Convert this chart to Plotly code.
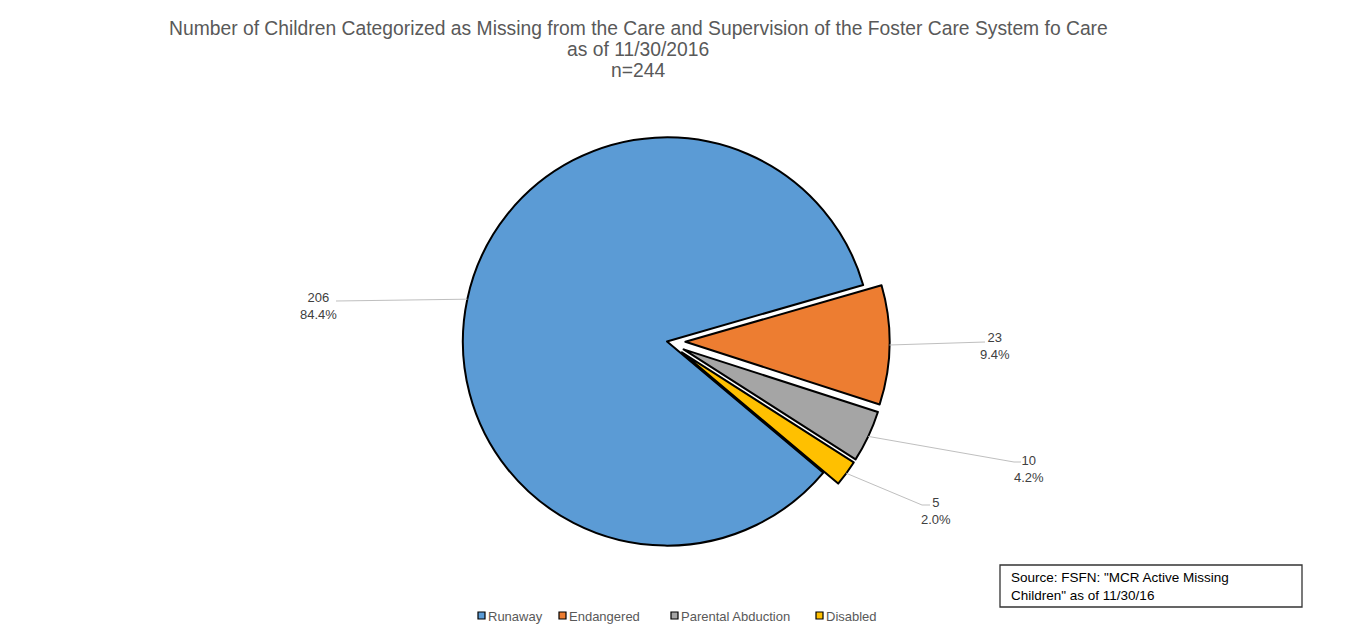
import plotly.graph_objects as go
import math

# ---- data ----
categories = ["Runaway", "Endangered", "Parental Abduction", "Disabled"]
counts = [206, 23, 10, 5]
pct_labels = ["84.4%", "9.4%", "4.2%", "2.0%"]
colors = ["#5B9BD5", "#ED7D31", "#A5A5A5", "#FFC000"]
pulls = [0, 0.09, 0.09, 0.09]

title_lines = [
    "Number of Children Categorized as Missing from the Care and Supervision of the Foster Care System fo Care",
    "as of 11/30/2016",
    "n=244",
]
source_text = 'Source: FSFN: "MCR Active Missing<br>Children" as of 11/30/16'

FONT = "Liberation Sans, Arial"

# ---- layout geometry (page pixels; page body has 8px offset) ----
OFF = 8
W, H = 1348, 634
ML, MR, MT, MB = 0, 0, 111, 78
PW, PH = W - ML - MR, H - MT - MB
ROT = 130
CX = 667  # page x of pie center
dom_half = 0.2
dom_c = (CX - OFF - ML) / PW
domain_x = [dom_c - dom_half, dom_c + dom_half]


def px(x):
    return (x - OFF - ML) / PW


def py(y):
    return 1 - (y - OFF - MT) / PH


# pie geometry as plotly computes it
max_pull = max(pulls)
R = min(PW * (domain_x[1] - domain_x[0]), PH) / (2 + 2 * max_pull)
CY = OFF + MT + PH / 2

fig = go.Figure(go.Pie(
    labels=categories,
    values=counts,
    sort=False,
    direction="clockwise",
    rotation=ROT,
    pull=pulls,
    marker=dict(colors=colors, line=dict(color="#000000", width=2)),
    textinfo="none",
    hoverinfo="label+value",
    domain=dict(x=domain_x, y=[0, 1]),
    showlegend=False,
))

# ---- leader lines & labels ----
elbows = [[(336, 301)], [(985, 342)], [(1014, 462), (1021, 462)], [(922, 505), (930, 505)]]
label_pos = [(318, 306), (995, 346), (1029, 469), (936, 511)]

total = sum(counts)
cum = 0
shapes = []
annotations = []
for i, v in enumerate(counts):
    mid = math.radians(ROT + (cum + v / 2) * 360 / total)
    cum += v
    rr = R * (1 + pulls[i])
    sx = CX + rr * math.sin(mid)
    sy = CY - rr * math.cos(mid)
    pts = [(sx, sy)] + elbows[i]
    path = "M " + " L ".join(f"{px(x)},{py(y)}" for x, y in pts)
    shapes.append(dict(type="path", path=path, xref="paper", yref="paper",
                       line=dict(color="#BFBFBF", width=1)))
    lx, ly = label_pos[i]
    annotations.append(dict(
        x=px(lx), y=py(ly), xref="paper", yref="paper",
        text=f"{counts[i]}<br>{pct_labels[i]}", showarrow=False,
        xanchor="center", yanchor="middle", align="center",
        font=dict(family=FONT, size=13, color="#404040"),
    ))

# title lines
for t, y in zip(title_lines, [29, 50, 71]):
    annotations.append(dict(
        x=px(638), y=py(y), xref="paper", yref="paper", text=t, showarrow=False,
        xanchor="center", yanchor="middle",
        font=dict(family=FONT, size=19.3, color="#595959"),
    ))

# source box
shapes.append(dict(type="rect", xref="paper", yref="paper",
                   x0=px(1000), x1=px(1302), y0=py(607), y1=py(565),
                   fillcolor="white", line=dict(color="#333333", width=1.3)))
annotations.append(dict(
    x=px(1009), y=py(586), xref="paper", yref="paper", text=source_text,
    showarrow=False, xanchor="left", yanchor="middle", align="left",
    font=dict(family=FONT, size=13.5, color="#000000"),
))

# legend (manual, Excel-style small squares)
legend_sq_x = [478, 559, 671, 816]
for i, name in enumerate(categories):
    x0 = legend_sq_x[i]
    shapes.append(dict(type="rect", xref="paper", yref="paper",
                       x0=px(x0), x1=px(x0 + 7), y0=py(619), y1=py(612),
                       fillcolor=colors[i], line=dict(color="#000000", width=1.2)))
    annotations.append(dict(
        x=px(x0 + 8), y=py(616), xref="paper", yref="paper", text=name,
        showarrow=False, xanchor="left", yanchor="middle",
        font=dict(family=FONT, size=13, color="#595959"),
    ))

fig.update_layout(
    width=W, height=H,
    margin=dict(l=ML, r=MR, t=MT, b=MB),
    paper_bgcolor="white", plot_bgcolor="white",
    showlegend=False,
    shapes=shapes,
    annotations=annotations,
)

fig.write_html("out.html")
